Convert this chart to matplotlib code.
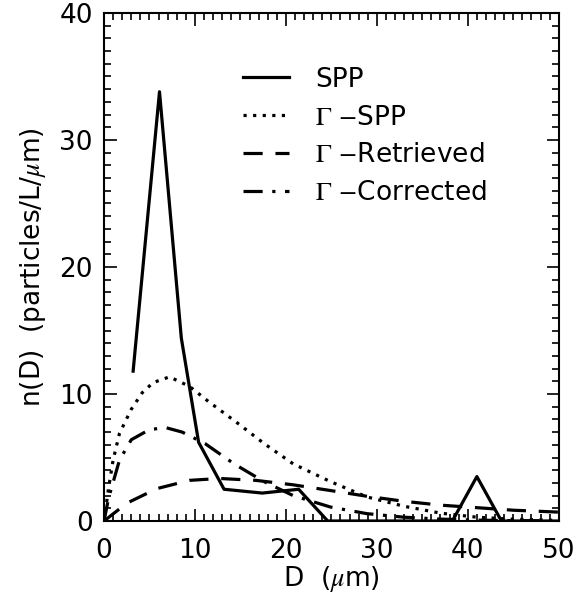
import numpy as np
import matplotlib.pyplot as plt
from matplotlib.ticker import MultipleLocator

# SPP measured size distribution
d_spp = [3.2, 6.1, 8.5, 10.4, 13.2, 17.4, 21.4, 24.6, 30.0, 35.0, 38.3, 41.0, 43.7, 47.0, 50.0]
n_spp = [11.8, 33.8, 14.4, 6.2, 2.5, 2.2, 2.5, 0.0, 0.0, 0.0, 0.0, 3.5, 0.0, 0.0, 0.0]

# Gamma fit to SPP
d_gspp = [0.0, 0.5, 1.0, 1.7, 3.0, 4.2, 5.4, 7.2, 9.4, 11.5, 14.7, 17.6, 20.8, 24.9, 28.9, 33.0, 37.0, 41.0, 45.0, 50.0]
n_gspp = [0.0, 2.6, 4.8, 6.9, 8.8, 10.1, 10.9, 11.35, 10.6, 9.4, 7.7, 6.1, 4.5, 3.1, 1.9, 1.16, 0.62, 0.3, 0.14, 0.05]

# Gamma retrieved
d_gret = [0.0, 2.5, 5.8, 9.4, 12.7, 16.7, 20.8, 24.9, 28.9, 33.0, 37.0, 41.0, 45.0, 50.0]
n_gret = [0.0, 1.4, 2.55, 3.2, 3.35, 3.2, 2.85, 2.4, 1.95, 1.55, 1.25, 1.05, 0.85, 0.7]

# Gamma corrected
d_gcor = [0.0, 0.5, 1.7, 3.0, 5.0, 6.8, 8.6, 11.1, 14.3, 17.6, 20.8, 24.9, 28.9, 33.0, 37.0, 41.0, 45.0, 50.0]
n_gcor = [0.0, 1.8, 4.8, 6.4, 7.2, 7.35, 7.0, 6.1, 4.5, 3.1, 2.0, 1.1, 0.58, 0.3, 0.15, 0.07, 0.03, 0.01]

plt.rcParams['font.family'] = 'DejaVu Sans'
plt.rcParams['mathtext.fontset'] = 'stix'

fs = 19

fig = plt.figure(figsize=(5.76, 6.04), dpi=100)
ax = fig.add_axes([0.1806, 0.1374, 0.7894, 0.8411])

lw = 2.3
ax.plot(d_spp, n_spp, color='black', lw=lw, ls='-', label='SPP')
ax.plot(d_gspp, n_gspp, color='black', lw=lw, ls=(0, (1, 2)), label=r'$\Gamma$ $-$SPP')
ax.plot(d_gret, n_gret, color='black', lw=lw, ls=(0, (6, 4)), label=r'$\Gamma$ $-$Retrieved')
ax.plot(d_gcor, n_gcor, color='black', lw=lw, ls=(0, (6, 3, 1, 3)), label=r'$\Gamma$ $-$Corrected')

ax.set_xlim(0, 50)
ax.set_ylim(0, 40)
ax.xaxis.set_major_locator(MultipleLocator(10))
ax.xaxis.set_minor_locator(MultipleLocator(1))
ax.yaxis.set_major_locator(MultipleLocator(10))
ax.yaxis.set_minor_locator(MultipleLocator(1))
ax.tick_params(which='both', direction='in', top=True, right=True, width=1.2, labelsize=fs)
ax.tick_params(axis='x', pad=12)
ax.tick_params(axis='y', pad=8)
ax.tick_params(which='major', length=9)
ax.tick_params(which='minor', length=5)
for s in ax.spines.values():
    s.set_linewidth(1.5)

ax.set_xlabel(r'D  ($\mu$m)', fontsize=fs, labelpad=0)
ax.set_ylabel(r'n(D)  (particles/L/$\mu$m)', fontsize=fs, labelpad=8)

ax.legend(loc='upper left', bbox_to_anchor=(0.282, 0.915), frameon=False, fontsize=fs,
          handlelength=1.75, handletextpad=1.0, labelspacing=0.45, borderaxespad=0)

fig.savefig('out.png', dpi=100)
